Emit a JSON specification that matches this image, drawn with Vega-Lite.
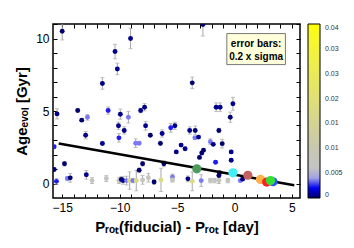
{
  "$schema": "https://vega.github.io/schema/vega-lite/v6.json",
  "width": 247,
  "height": 174,
  "autosize": {"type": "none"},
  "padding": {"left": 53, "top": 24, "right": 54, "bottom": 50},
  "background": "white",
  "config": {
    "view": {"stroke": "black", "strokeWidth": 1.5},
    "font": "Liberation Sans",
    "axis": {"grid": false}
  },
  "datasets": {
    "pts": [
      {"x": -15.0, "age": 10.5, "err": 0.6, "s": 0.0002},
      {"x": -11.5, "age": 6.9, "err": 0.4, "s": 0.001},
      {"x": -10.4, "age": 9.1, "err": 0.5, "s": 0.001},
      {"x": -10.2, "age": 7.9, "err": 0.4, "s": 0.001},
      {"x": -9.05, "age": 10.0, "err": 0.7, "s": 0.001},
      {"x": -2.75, "age": 10.97, "err": 0.8, "s": 0.0002},
      {"x": -3.68, "age": 6.94, "err": 0.4, "s": 0.0002},
      {"x": -15.45, "age": 4.8, "err": 0.35, "s": 0.001},
      {"x": -13.65, "age": 5.03, "err": 0.1, "s": 0.0002},
      {"x": -13.3, "age": 4.37, "err": 0.1, "s": 0.0002},
      {"x": -12.8, "age": 4.57, "err": 0.2, "s": 0.0035},
      {"x": -11.0, "age": 5.03, "err": 0.25, "s": 0.0022},
      {"x": -9.94, "age": 4.78, "err": 0.35, "s": 0.001},
      {"x": -9.24, "age": 4.57, "err": 0.4, "s": 0.0035},
      {"x": -10.1, "age": 3.98, "err": 0.25, "s": 0.001},
      {"x": -9.6, "age": 3.66, "err": 0.25, "s": 0.001},
      {"x": -10.06, "age": 3.15, "err": 0.3, "s": 0.0022},
      {"x": -12.96, "age": 3.33, "err": 0.25, "s": 0.001},
      {"x": -11.5, "age": 2.76, "err": 0.1, "s": 0.001},
      {"x": -8.17, "age": 5.03, "err": 0.15, "s": 0.001},
      {"x": -7.83, "age": 5.26, "err": 0.25, "s": 0.001},
      {"x": -7.74, "age": 3.98, "err": 0.3, "s": 0.001},
      {"x": -7.33, "age": 3.33, "err": 0.1, "s": 0.0002},
      {"x": -6.3, "age": 3.45, "err": 0.25, "s": 0.001},
      {"x": -5.55, "age": 3.84, "err": 0.3, "s": 0.0022},
      {"x": -5.19, "age": 3.98, "err": 0.25, "s": 0.001},
      {"x": -3.9, "age": 3.66, "err": 0.25, "s": 0.001},
      {"x": -3.42, "age": 3.66, "err": 0.3, "s": 0.0002},
      {"x": -3.45, "age": 3.15, "err": 0.1, "s": 0.0035},
      {"x": -3.13, "age": 3.2, "err": 0.1, "s": 0.001},
      {"x": -2.1, "age": 2.88, "err": 0.2, "s": 0.0035},
      {"x": -6.45, "age": 2.77, "err": 0.15, "s": 0.0002},
      {"x": -4.65, "age": 2.65, "err": 0.1, "s": 0.001},
      {"x": -8.6, "age": 2.78, "err": 0.3, "s": 0.0035},
      {"x": -8.3, "age": 2.78, "err": 0.1, "s": 0.0035},
      {"x": -1.6, "age": 5.26, "err": 0.3, "s": 0.001},
      {"x": -1.25, "age": 5.26, "err": 0.3, "s": 0.001},
      {"x": -0.14, "age": 5.5, "err": 0.45, "s": 0.001},
      {"x": -0.37, "age": 4.57, "err": 0.35, "s": 0.0002},
      {"x": -1.36, "age": 3.66, "err": 0.15, "s": 0.0002},
      {"x": -1.07, "age": 2.75, "err": 0.3, "s": 0.0002},
      {"x": -1.85, "age": 2.7, "err": 0.1, "s": 0.001},
      {"x": -5.07, "age": 2.18, "err": 0.1, "s": 0.001},
      {"x": -4.3, "age": 2.4, "err": 0.1, "s": 0.001},
      {"x": -3.05, "age": 1.8, "err": 0.1, "s": 0.0002},
      {"x": -2.85, "age": 2.1, "err": 0.1, "s": 0.0002},
      {"x": -2.7, "age": 2.3, "err": 0.1, "s": 0.0002},
      {"x": -0.29, "age": 2.18, "err": 0.1, "s": 0.001},
      {"x": -0.29, "age": 1.6, "err": 0.1, "s": 0.001},
      {"x": -1.65, "age": 1.47, "err": 0.1, "s": 0.0022},
      {"x": -1.3, "age": 0.74, "err": 0.1, "s": 0.001},
      {"x": -1.36, "age": 0.55, "err": 0.1, "s": 0.0002},
      {"x": -15.7, "age": 2.53, "err": 0.1, "s": 0.0022},
      {"x": -15.7, "age": 0.97, "err": 0.1, "s": 0.0002},
      {"x": -14.8, "age": 1.36, "err": 0.15, "s": 0.0002},
      {"x": -15.5, "age": 0.15, "err": 0.2, "s": 0.0022},
      {"x": -14.55, "age": 0.34, "err": 0.15, "s": 0.0035},
      {"x": -14.3, "age": 0.39, "err": 0.3, "s": 0.0002},
      {"x": -12.9, "age": 0.6, "err": 0.3, "s": 0.001},
      {"x": -12.4, "age": 0.2, "err": 0.2, "s": 0.007},
      {"x": -11.16, "age": 0.34, "err": 0.2, "s": 0.007},
      {"x": -10.06, "age": 0.2, "err": 0.2, "s": 0.007},
      {"x": -9.85, "age": 0.28, "err": 0.2, "s": 0.0002},
      {"x": -9.7, "age": 0.2, "err": 0.25, "s": 0.001},
      {"x": -9.4, "age": 0.2, "err": 0.3, "s": 0.0035},
      {"x": -9.13, "age": 0.2, "err": 0.6, "s": 0.018},
      {"x": -8.85, "age": 0.2, "err": 0.15, "s": 0.0035},
      {"x": -8.55, "age": 0.2, "err": 0.7, "s": 0.018},
      {"x": -8.3, "age": 0.92, "err": 0.15, "s": 0.0002},
      {"x": -8.0, "age": 1.36, "err": 0.15, "s": 0.0002},
      {"x": -8.0, "age": 0.25, "err": 0.3, "s": 0.007},
      {"x": -7.5, "age": 0.4, "err": 0.3, "s": 0.007},
      {"x": -7.0, "age": 0.1, "err": 0.15, "s": 0.0002},
      {"x": -6.4, "age": 0.25, "err": 0.8, "s": 0.018},
      {"x": -6.15, "age": 1.36, "err": 0.2, "s": 0.0002},
      {"x": -5.4, "age": 0.45, "err": 0.2, "s": 0.0035},
      {"x": -5.4, "age": 0.25, "err": 0.15, "s": 0.007},
      {"x": -4.06, "age": 0.32, "err": 0.2, "s": 0.001},
      {"x": -3.68, "age": 0.15, "err": 0.65, "s": 0.018},
      {"x": -2.9, "age": 0.2, "err": 0.4, "s": 0.0035},
      {"x": -2.1, "age": 0.2, "err": 0.15, "s": 0.007},
      {"x": -1.74, "age": 0.2, "err": 0.15, "s": 0.007},
      {"x": -1.36, "age": 0.2, "err": 0.2, "s": 0.007},
      {"x": -0.58, "age": 0.2, "err": 0.15, "s": 0.007},
      {"x": 0.5, "age": 0.2, "err": 0.1, "s": 0.0035},
      {"x": 0.7, "age": 0.3, "err": 0.1, "s": 0.001}
    ],
    "big": [
      {"x": -3.28, "age": 1.01, "star": "a"},
      {"x": -0.14, "age": 0.74, "star": "b"},
      {"x": 1.16, "age": 0.57, "star": "c"},
      {"x": 2.26, "age": 0.28, "star": "d"},
      {"x": 2.8, "age": 0.1, "star": "e"},
      {"x": 3.35, "age": 0.12, "star": "f"},
      {"x": 3.13, "age": 0.2, "star": "g"}
    ],
    "fit": [
      {"x": -15.3, "age": 2.76},
      {"x": 5.2, "age": -0.12}
    ],
    "box": [
      {"x1": -0.67, "x2": 4.43, "y1": 8.2, "y2": 10.34}
    ],
    "note": [
      {"x": 1.88, "age": 9.6, "t": "error bars:"},
      {"x": 1.88, "age": 8.75, "t": "0.2 x sigma"}
    ]
  },
  "resolve": {"axis": {"x": "independent", "y": "independent"}},
  "layer": [
    {
      "data": {"name": "pts"},
      "mark": {"type": "errorbar", "ticks": {"size": 4}, "color": "#a8a8a8", "thickness": 1, "clip": true},
      "encoding": {
        "x": {"field": "x", "type": "quantitative",
          "scale": {"domain": [-15.8, 5.7], "nice": false, "zero": false},
          "axis": {"orient": "bottom", "values": [-15,-14,-13,-12,-11,-10,-9,-8,-7,-6,-5,-4,-3,-2,-1,0,1,2,3,4,5],
            "labelExpr": "datum.value % 5 === 0 ? datum.label : ''",
            "tickSize": -4, "tickColor": "black", "domain": false, "labelFontSize": 12, "labelColor": "black",
            "labelPadding": 8, "title": "Pᵣₒₜ(fiducial) - Pᵣₒₜ [day]", "titleFontSize": 15, "titleFontWeight": "bold",
            "titleColor": "black", "titlePadding": 6}},
        "y": {"field": "age", "type": "quantitative",
          "scale": {"domain": [-1, 11], "nice": false, "zero": false},
          "axis": {"orient": "left", "values": [0,1,2,3,4,5,6,7,8,9,10,11],
            "labelExpr": "datum.value % 5 === 0 ? datum.label : ''",
            "tickSize": -4, "tickColor": "black", "domain": false, "labelFontSize": 12, "labelColor": "black",
            "labelPadding": 8, "title": "Ageₑᵥₒₗ [Gyr]", "titleFontSize": 15, "titleFontWeight": "bold",
            "titleColor": "black", "titlePadding": 6}},
        "yError": {"field": "err"}
      }
    },
    {
      "data": {"name": "pts"},
      "mark": {"type": "circle", "size": 24, "opacity": 1, "clip": true},
      "encoding": {
        "x": {"field": "x", "type": "quantitative",
          "axis": {"orient": "top", "values": [-15,-14,-13,-12,-11,-10,-9,-8,-7,-6,-5,-4,-3,-2,-1,0,1,2,3,4,5],
            "labels": false, "tickSize": -4, "tickColor": "black", "domain": false, "title": null}},
        "y": {"field": "age", "type": "quantitative",
          "axis": {"orient": "right", "values": [0,1,2,3,4,5,6,7,8,9,10,11],
            "labels": false, "tickSize": -4, "tickColor": "black", "domain": false, "title": null}},
        "color": {"field": "s", "type": "quantitative",
          "scale": {"domain": [0, 0.035], "nice": false, "zero": false,
            "range": ["#000000", "#00008a", "#0000f0", "#5050ff", "#a0a0e8", "#c8c8d8", "#c4c4c4", "#c4c4c0", "#c5c5bc", "#c6c6b8", "#c8c8b2", "#cacaac", "#cccca6", "#cfcfa0", "#d1d19a", "#d4d494", "#d6d68e", "#d8d888", "#dbdb82", "#dddd7c", "#e0e076", "#e2e270", "#e4e46a", "#e6e664", "#e8e85e", "#eaea58", "#ecec52", "#eeee4c", "#f0f046", "#f2f240", "#f4f43a", "#f6f632", "#f8f82a", "#fafa20", "#fcfc14", "#ffff00"]},
          "legend": {"title": null, "orient": "right", "offset": 7, "direction": "vertical",
            "gradientLength": 174, "gradientThickness": 12,
            "values": [0, 0.005, 0.01, 0.015, 0.02, 0.025, 0.03, 0.035], "format": "~g",
            "labelFontSize": 7, "labelColor": "#333", "labelOffset": 5, "labelOverlap": false,
            "gradientStrokeColor": "black", "gradientStrokeWidth": 1}}
      }
    },
    {
      "data": {"name": "fit"},
      "mark": {"type": "line", "color": "black", "strokeWidth": 2.5},
      "encoding": {
        "x": {"field": "x", "type": "quantitative", "axis": null},
        "y": {"field": "age", "type": "quantitative", "axis": null}
      }
    },
    {
      "data": {"name": "big"},
      "mark": {"type": "circle", "size": 85, "opacity": 1},
      "encoding": {
        "x": {"field": "x", "type": "quantitative", "axis": null},
        "y": {"field": "age", "type": "quantitative", "axis": null},
        "fill": {"field": "star", "type": "nominal", "legend": null,
          "scale": {"domain": ["a","b","c","d","e","f","g"],
            "range": ["#4c9a5c", "#40eef8", "#c46060", "#ffb048", "#ff2020", "#3050ff", "#33e033"]}}
      }
    },
    {
      "data": {"name": "box"},
      "mark": {"type": "rect", "fill": "#ffffdc", "stroke": "#777777", "strokeWidth": 1},
      "encoding": {
        "x": {"field": "x1", "type": "quantitative", "axis": null},
        "x2": {"field": "x2"},
        "y": {"field": "y1", "type": "quantitative", "axis": null},
        "y2": {"field": "y2"}
      }
    },
    {
      "data": {"name": "note"},
      "mark": {"type": "text", "fontSize": 10, "fontWeight": "bold", "color": "black", "align": "center", "baseline": "middle"},
      "encoding": {
        "x": {"field": "x", "type": "quantitative", "axis": null},
        "y": {"field": "age", "type": "quantitative", "axis": null},
        "text": {"field": "t"}
      }
    }
  ]
}
